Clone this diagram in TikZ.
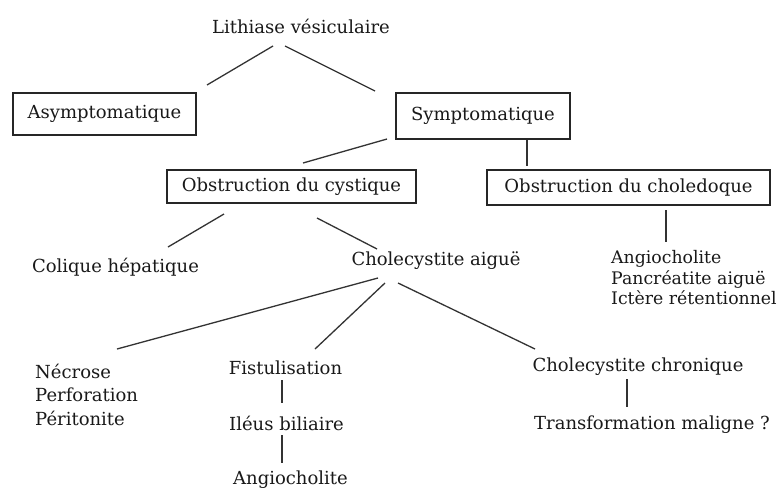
\documentclass[tikz,border=0pt]{standalone}
\usepackage{fontspec}
\setmainfont{DejaVu Serif}
\begin{document}
\begin{tikzpicture}[x=1pt,y=-1pt,
  every node/.style={font=\fontsize{18}{20.5}\selectfont, inner sep=0pt, text=black!90},
  boxnode/.style={draw=black!85, line width=1.3pt, minimum width=#1},
  link/.style={line width=1.3pt, draw=black!80}]
\useasboundingbox[fill=white] (0,0) rectangle (781,488);
% nodes
\node (lith) at (301,26) {Lithiase vésiculaire};
\node[boxnode=183pt, minimum height=42pt] (asym) at (104.5,114) {Asymptomatique};
\node[boxnode=174pt, minimum height=46pt] (sym) at (483,116) {Symptomatique};
\node[boxnode=249pt, minimum height=33pt] (cyst) at (291.5,186.5) {Obstruction du cystique};
\node[boxnode=283pt, minimum height=35pt] (chol) at (628.5,187.5) {Obstruction du choledoque};
\node (coli) at (115.5,267) {Colique hépatique};
\node (aigu) at (436,261) {Cholecystite aiguë};
\node[anchor=west, align=left, font=\fontsize{17.3}{20.5}\selectfont] (list) at (611,278) {Angiocholite\\Pancréatite aiguë\\Ictère rétentionnel};
\node[anchor=west, align=left, font=\fontsize{18}{23.5}\selectfont] (necr) at (35,394.5) {Nécrose\\Perforation\\Péritonite};
\node (fist) at (285.5,368) {Fistulisation};
\node (ileu) at (286.5,423) {Iléus biliaire};
\node (angi) at (290.5,480) {Angiocholite};
\node (chro) at (638,367) {Cholecystite chronique};
\node (tran) at (652,425) {Transformation maligne ?};
% connectors
\draw[link] ([shift={(-28,20)}]lith.center) -- ([shift={(102.5,-29)}]asym.center);
\draw[link] ([shift={(-16,20)}]lith.center) -- ([shift={(-108,-25)}]sym.center);
\draw[link] ([shift={(-96,23)}]sym.center) -- ([shift={(11.5,-23.5)}]cyst.center);
\draw[link] ([shift={(44,24)}]sym.center) -- ([shift={(-101.5,-21.5)}]chol.center);
\draw[link] ([shift={(-67.5,27.5)}]cyst.center) -- ([shift={(52.5,-20)}]coli.center);
\draw[link] ([shift={(25.5,31.5)}]cyst.center) -- ([shift={(-59,-12)}]aigu.center);
\draw[link] ([shift={(37.5,22.5)}]chol.center) -- ([shift={(55,-36)}]list.west);
\draw[link] ([shift={(-58,17)}]aigu.center) -- ([shift={(82,-45.5)}]necr.west);
\draw[link] ([shift={(-51,22)}]aigu.center) -- ([shift={(29.5,-19)}]fist.center);
\draw[link] ([shift={(-38,22)}]aigu.center) -- ([shift={(-103,-18)}]chro.center);
\draw[link] ([shift={(-3.5,12)}]fist.center) -- ([shift={(-4.5,-20)}]ileu.center);
\draw[link] ([shift={(-4.5,12)}]ileu.center) -- ([shift={(-8.5,-17)}]angi.center);
\draw[link] ([shift={(-11,12)}]chro.center) -- ([shift={(-25,-18)}]tran.center);
\end{tikzpicture}
\end{document}
